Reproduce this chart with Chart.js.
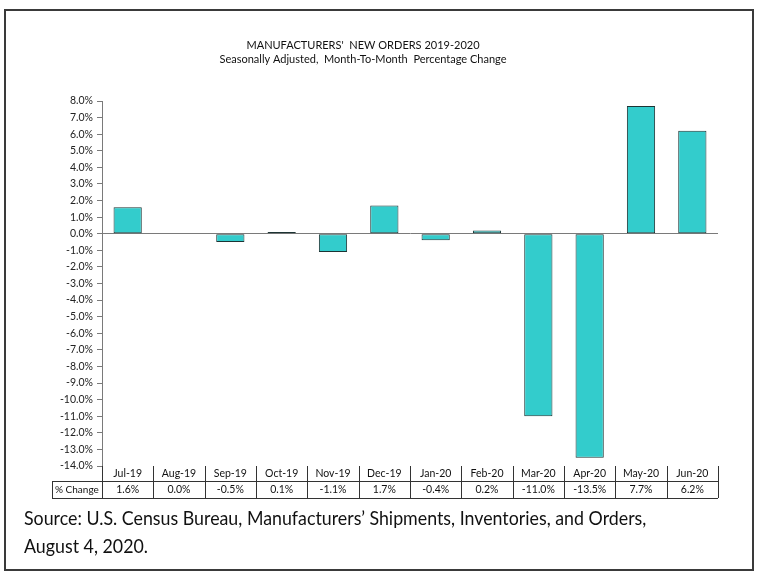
<!DOCTYPE html>
<html>
<head>
<meta charset="utf-8">
<title>Manufacturers' New Orders 2019-2020</title>
<script src="https://cdn.jsdelivr.net/npm/chart.js@4.4.0/dist/chart.umd.min.js"></script>
<style>
  html, body { margin: 0; padding: 0; background: #fff; }
  #wrap { position: relative; width: 760px; height: 578px; }
  #frame { position: absolute; left: 4px; top: 9px; width: 746px; height: 558px; border: 2px solid #3a3a3a; }
  #chart { position: absolute; left: 0; top: 0; }
  #source { position: absolute; left: 24px; top: 503px; font-family: Lato, sans-serif; font-size: 20px; line-height: 28px; color: #111;
            white-space: nowrap; transform: scaleX(0.89); transform-origin: left top; }
</style>
</head>
<body>
<div id="wrap">
  <div id="frame"></div>
  <canvas id="chart" width="760" height="578"></canvas>
  <div id="source">Source: U.S. Census Bureau, Manufacturers’ Shipments, Inventories, and Orders,<br>August 4, 2020.</div>
</div>
<script>
// chart data
const months = ['Jul-19', 'Aug-19', 'Sep-19', 'Oct-19', 'Nov-19', 'Dec-19',
                'Jan-20', 'Feb-20', 'Mar-20', 'Apr-20', 'May-20', 'Jun-20'];
const pctChange = [1.6, 0.0, -0.5, 0.1, -1.1, 1.7, -0.4, 0.2, -11.0, -13.5, 7.7, 6.2];
const yMin = -14;
const yMax = 8;
const yStep = 1;

const titleText = "MANUFACTURERS'  NEW ORDERS 2019-2020";
const subtitleText = 'Seasonally Adjusted,  Month-To-Month  Percentage Change';
const rowLabel = '% Change';

const fontFamily = 'Lato, "Open Sans", sans-serif';

// title + data table under the plot
const extrasPlugin = {
    id: 'extras',
    afterDraw(chart) {
        const ctx = chart.ctx;
        const area = chart.chartArea;
        const x = chart.scales.x;
        const half = (x.getPixelForValue(1) - x.getPixelForValue(0)) / 2;
        const top = area.bottom;
        const mid = top + 15;
        const bot = mid + 17;
        const labelLeft = 52;

        ctx.save();
        ctx.fillStyle = '#111';
        ctx.textAlign = 'center';
        ctx.textBaseline = 'middle';
        ctx.font = '11px ' + fontFamily;
        ctx.fillText(titleText, 363, 45);
        ctx.fillText(subtitleText, 363, 59);

        ctx.strokeStyle = '#333';
        ctx.lineWidth = 1;
        ctx.beginPath();
        ctx.moveTo(labelLeft, mid + 0.5); ctx.lineTo(area.right, mid + 0.5);
        ctx.moveTo(labelLeft, bot + 0.5); ctx.lineTo(area.right, bot + 0.5);
        ctx.moveTo(labelLeft + 0.5, mid); ctx.lineTo(labelLeft + 0.5, bot);
        for (let i = 0; i <= months.length; i++) {
            const px = Math.round(x.getPixelForValue(i) - half) + 0.5;
            ctx.moveTo(px, top); ctx.lineTo(px, bot);
        }
        ctx.stroke();

        ctx.font = '10.5px ' + fontFamily;
        months.forEach((m, i) => {
            const px = x.getPixelForValue(i);
            ctx.fillText(m, px, top + 8);
            ctx.fillText(pctChange[i].toFixed(1) + '%', px, mid + 9);
        });
        ctx.textAlign = 'left';
        ctx.font = '10px ' + fontFamily;
        ctx.fillText(rowLabel, labelLeft + 3, mid + 9);
        ctx.restore();
    }
};

new Chart(document.getElementById('chart'), {
    type: 'bar',
    data: {
        labels: months,
        datasets: [{
            label: '% Change',
            data: pctChange,
            backgroundColor: '#33CCCC',
            borderColor: '#1d3434',
            borderWidth: 1,
            borderSkipped: false,
            barPercentage: 0.55,
            categoryPercentage: 1.0
        }]
    },
    options: {
        responsive: false,
        animation: false,
        layout: {
            padding: { left: 52, right: 42, top: 101, bottom: 112 }
        },
        plugins: {
            legend: { display: false },
            tooltip: { enabled: false }
        },
        scales: {
            x: {
                display: false
            },
            y: {
                min: yMin,
                max: yMax,
                afterFit(scale) { scale.width = 50; },
                ticks: {
                    stepSize: yStep,
                    padding: 4,
                    color: '#222',
                    font: { family: fontFamily, size: 10.5 },
                    callback: v => v.toFixed(1) + '%'
                },
                grid: {
                    color: c => (c.tick && c.tick.value === 0) ? '#7a7a7a' : 'rgba(0,0,0,0)',
                    tickColor: '#7a7a7a',
                    tickLength: 5
                },
                border: { display: true, color: '#7a7a7a' }
            }
        }
    },
    plugins: [extrasPlugin]
});
</script>
</body>
</html>
